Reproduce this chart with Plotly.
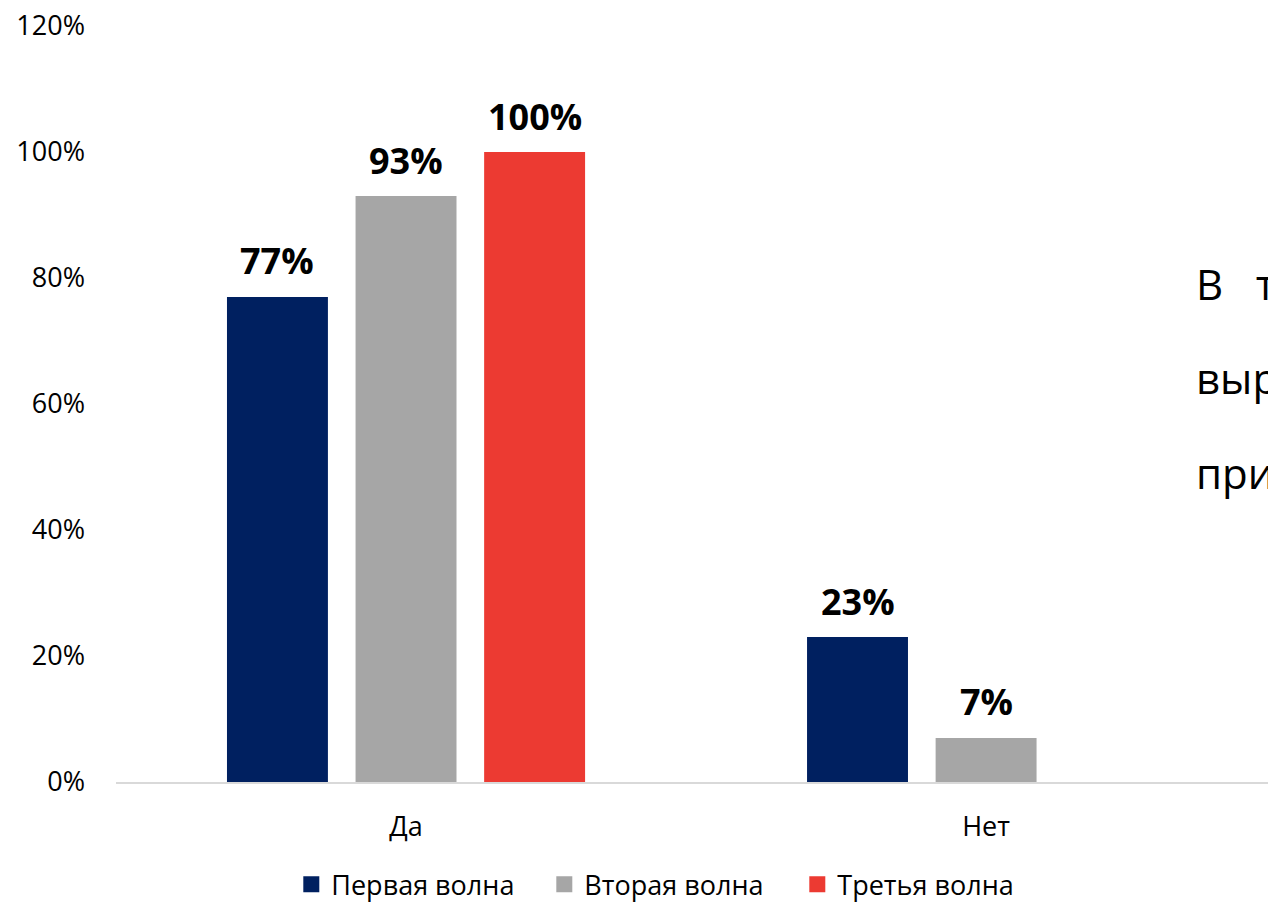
import plotly.graph_objects as go

categories = ["Да", "Нет"]
series_names = ["Первая волна", "Вторая волна", "Третья волна"]
wave1 = [0.77, 0.23]
wave2 = [0.93, 0.07]
wave3 = [1.00, None]
colors = ["#002060", "#A6A6A6", "#EC3A32"]
y_ticks = [0, 0.2, 0.4, 0.6, 0.8, 1.0, 1.2]
y_tick_labels = ["0%", "20%", "40%", "60%", "80%", "100%", "120%"]
side_text = ["В   том числе", "выражении", "признали"]

FONT = "Open Sans"
W, H = 1268, 910
ML, MT, MB = 116, 26, 128
X_RANGE = [-0.5, 1.486]
BARGAP, GROUPGAP = 0.335, 0.215

fig = go.Figure()
all_series = [wave1, wave2, wave3]
for name, vals, col in zip(series_names, all_series, colors):
    fig.add_trace(go.Bar(
        x=categories, y=vals, name=name, showlegend=False,
        marker=dict(color=col, line=dict(width=0)),
    ))
    # legend-only square marker
    fig.add_trace(go.Scatter(
        x=[None], y=[None], mode="markers", name=name, showlegend=True,
        marker=dict(symbol="square", size=18, color=col, line=dict(width=0)),
    ))

# data labels placed above each bar via the axis scales
px_per_cat = (W - ML) / (X_RANGE[1] - X_RANGE[0])
slot = px_per_cat * (1 - BARGAP) / len(all_series)
for si, vals in enumerate(all_series):
    for cat, v in zip(categories, vals):
        if v is None:
            continue
        fig.add_annotation(
            x=cat, y=v, xref="x", yref="y", text=f"<b>{round(v * 100)}%</b>",
            showarrow=False, xanchor="center", yanchor="middle",
            xshift=(si - 1) * slot, yshift=36,
            font=dict(family=FONT, size=36, color="#000000"),
        )

fig.update_layout(
    width=W, height=H,
    margin=dict(l=ML, r=0, t=MT, b=MB, pad=0),
    paper_bgcolor="white", plot_bgcolor="white",
    barmode="group", bargap=BARGAP, bargroupgap=GROUPGAP,
    font=dict(family=FONT, size=27, color="#000000"),
    showlegend=True,
    legend=dict(orientation="h", x=0.4816, xanchor="center", y=-0.136, yanchor="middle",
                font=dict(family=FONT, size=27), itemsizing="trace",
                traceorder="normal", itemwidth=30, entrywidth=208, entrywidthmode="pixels"),
    xaxis=dict(range=X_RANGE, showgrid=False, showline=True, linecolor="#D9D9D9",
               linewidth=2, ticks="", ticklabelstandoff=20, tickfont=dict(size=27)),
    yaxis=dict(range=[0, 1.2], tickmode="array", tickvals=y_ticks, ticktext=y_tick_labels,
               showgrid=False, showline=False, zeroline=False, ticks="",
               ticklabelstandoff=30, tickfont=dict(size=27)),
)

for i, t in enumerate(side_text):
    fig.add_annotation(xref="paper", yref="paper", x=(1194 - ML) / (W - ML), y=[0.66, 0.535, 0.41][i],
                       text=t, showarrow=False, xanchor="left", yanchor="middle",
                       font=dict(family=FONT, size=42, color="#000000"))

fig.write_html("out.html", config={"displayModeBar": False},
               post_script="document.body.style.margin='0';document.body.style.overflow='hidden';")
